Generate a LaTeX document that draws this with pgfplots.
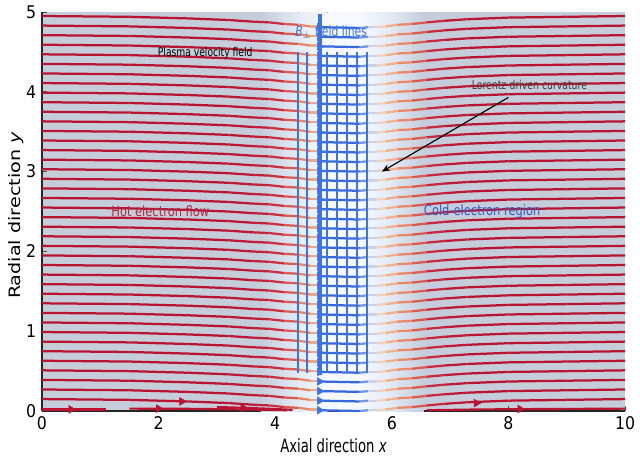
\documentclass[border=0pt]{standalone}
\usepackage{fontspec}
\setmainfont{DejaVu Sans Condensed}
\newfontfamily\widefont{DejaVu Sans}
\usepackage{graphicx}
\usepackage{pgfplots}
\usepackage{pgfplotstable}
\pgfplotsset{compat=1.18}
\usetikzlibrary{arrows.meta}

\definecolor{bgc}{RGB}{197,205,218}
\definecolor{glowm}{RGB}{228,235,246}
\definecolor{glowc}{RGB}{246,249,253}
\definecolor{crim}{RGB}{184,20,50}
\definecolor{vblue}{RGB}{62,116,226}
\definecolor{hotc}{RGB}{176,40,62}
\definecolor{coldc}{RGB}{44,92,200}

% streamlines: x, colour index m (0 = blue core, 1 = hot red), then one column per line
\pgfplotstableread{
x m l0 l1 l2 l3 l4 l5 l6 l7 l8 l9 l10 l11 l12 l13 l14 l15 l16 l17 l18 l19 l20 l21 l22 l23 l24 l25 l26 l27 l28 l29 l30 l31 l32 l33 l34 l35 l36 l37 l38 l39 l40
0 1 0.15 0.27 0.39 0.51 0.63 0.75 0.87 0.99 1.11 1.23 1.35 1.47 1.59 1.71 1.83 1.95 2.07 2.19 2.31 2.43 2.55 2.67 2.79 2.91 3.03 3.15 3.27 3.39 3.51 3.63 3.75 3.87 3.99 4.11 4.23 4.35 4.47 4.59 4.71 4.83 4.95
1.5 1 0.14 0.26 0.38 0.50 0.62 0.74 0.86 0.98 1.10 1.22 1.34 1.46 1.58 1.70 1.82 1.94 2.06 2.18 2.30 2.42 2.54 2.66 2.78 2.90 3.02 3.14 3.26 3.38 3.50 3.62 3.74 3.86 3.98 4.10 4.22 4.34 4.46 4.58 4.70 4.82 4.94
2.5 1 0.12 0.24 0.36 0.48 0.60 0.72 0.84 0.96 1.08 1.20 1.32 1.44 1.56 1.68 1.80 1.92 2.04 2.16 2.28 2.40 2.52 2.64 2.76 2.88 3.00 3.12 3.24 3.36 3.48 3.60 3.72 3.84 3.96 4.08 4.20 4.32 4.44 4.56 4.68 4.80 4.92
3.2 1 0.10 0.22 0.34 0.46 0.58 0.70 0.82 0.94 1.06 1.18 1.30 1.42 1.54 1.66 1.78 1.90 2.02 2.14 2.26 2.38 2.50 2.62 2.74 2.86 2.98 3.10 3.22 3.34 3.46 3.58 3.70 3.82 3.94 4.06 4.18 4.30 4.42 4.54 4.66 4.78 4.90
3.6 0.95 0.08 0.20 0.32 0.44 0.56 0.68 0.80 0.92 1.04 1.16 1.28 1.40 1.52 1.64 1.76 1.88 2.00 2.12 2.24 2.36 2.48 2.60 2.72 2.84 2.96 3.08 3.20 3.32 3.44 3.56 3.68 3.80 3.92 4.04 4.16 4.28 4.40 4.52 4.64 4.76 4.88
3.9 0.88 0.07 0.19 0.31 0.43 0.55 0.67 0.79 0.91 1.03 1.15 1.27 1.39 1.51 1.63 1.75 1.87 1.99 2.11 2.23 2.35 2.47 2.59 2.71 2.83 2.95 3.07 3.19 3.31 3.43 3.55 3.67 3.79 3.91 4.03 4.15 4.27 4.39 4.51 4.63 4.75 4.87
4.15 0.8 0.05 0.17 0.29 0.41 0.53 0.65 0.77 0.89 1.01 1.13 1.25 1.37 1.49 1.61 1.73 1.85 1.97 2.09 2.21 2.33 2.45 2.57 2.69 2.81 2.93 3.05 3.17 3.29 3.41 3.53 3.65 3.77 3.89 4.01 4.13 4.25 4.37 4.49 4.61 4.73 4.85
4.4 0.68 0.04 0.16 0.28 0.40 0.52 0.64 0.76 0.88 1.00 1.12 1.24 1.36 1.48 1.60 1.72 1.84 1.96 2.08 2.20 2.32 2.44 2.56 2.68 2.80 2.92 3.04 3.16 3.28 3.40 3.52 3.64 3.76 3.88 4.00 4.12 4.24 4.36 4.48 4.60 4.72 4.84
4.6 0.56 0.02 0.14 0.26 0.38 0.50 0.62 0.74 0.86 0.98 1.10 1.22 1.34 1.46 1.58 1.70 1.82 1.94 2.06 2.18 2.30 2.42 2.54 2.66 2.78 2.90 3.02 3.14 3.26 3.38 3.50 3.62 3.74 3.86 3.98 4.10 4.22 4.34 4.46 4.58 4.70 4.82
4.74 0.48 0.02 0.14 0.26 0.38 0.50 0.62 0.74 0.86 0.98 1.10 1.22 1.34 1.46 1.58 1.70 1.82 1.94 2.06 2.18 2.30 2.42 2.54 2.66 2.78 2.90 3.02 3.14 3.26 3.38 3.50 3.62 3.74 3.86 3.98 4.10 4.22 4.34 4.46 4.58 4.70 4.82
4.76 0 0.01 0.13 0.25 0.37 0.49 0.61 0.73 0.85 0.97 1.09 1.21 1.33 1.45 1.57 1.69 1.81 1.93 2.05 2.17 2.29 2.41 2.53 2.65 2.77 2.89 3.01 3.13 3.25 3.37 3.49 3.61 3.73 3.85 3.97 4.09 4.21 4.33 4.45 4.57 4.69 4.81
5.45 0 0.00 0.12 0.24 0.36 0.48 0.60 0.72 0.84 0.96 1.08 1.20 1.32 1.44 1.56 1.68 1.80 1.92 2.04 2.16 2.28 2.40 2.52 2.64 2.76 2.88 3.00 3.12 3.24 3.36 3.48 3.60 3.72 3.84 3.96 4.08 4.20 4.32 4.44 4.56 4.68 4.80
5.6 0.15 0.01 0.13 0.25 0.37 0.49 0.61 0.73 0.85 0.97 1.09 1.21 1.33 1.45 1.57 1.69 1.81 1.93 2.05 2.17 2.29 2.41 2.53 2.65 2.77 2.89 3.01 3.13 3.25 3.37 3.49 3.61 3.73 3.85 3.97 4.09 4.21 4.33 4.45 4.57 4.69 4.81
5.75 0.3 0.01 0.13 0.25 0.37 0.49 0.61 0.73 0.85 0.97 1.09 1.21 1.33 1.45 1.57 1.69 1.81 1.93 2.05 2.17 2.29 2.41 2.53 2.65 2.77 2.89 3.01 3.13 3.25 3.37 3.49 3.61 3.73 3.85 3.97 4.09 4.21 4.33 4.45 4.57 4.69 4.81
5.9 0.42 0.02 0.14 0.26 0.38 0.50 0.62 0.74 0.86 0.98 1.10 1.22 1.34 1.46 1.58 1.70 1.82 1.94 2.06 2.18 2.30 2.42 2.54 2.66 2.78 2.90 3.02 3.14 3.26 3.38 3.50 3.62 3.74 3.86 3.98 4.10 4.22 4.34 4.46 4.58 4.70 4.82
6.1 0.55 0.04 0.16 0.28 0.40 0.52 0.64 0.76 0.88 1.00 1.12 1.24 1.36 1.48 1.60 1.72 1.84 1.96 2.08 2.20 2.32 2.44 2.56 2.68 2.80 2.92 3.04 3.16 3.28 3.40 3.52 3.64 3.76 3.88 4.00 4.12 4.24 4.36 4.48 4.60 4.72 4.84
6.35 0.68 0.05 0.17 0.29 0.41 0.53 0.65 0.77 0.89 1.01 1.13 1.25 1.37 1.49 1.61 1.73 1.85 1.97 2.09 2.21 2.33 2.45 2.57 2.69 2.81 2.93 3.05 3.17 3.29 3.41 3.53 3.65 3.77 3.89 4.01 4.13 4.25 4.37 4.49 4.61 4.73 4.85
6.6 0.8 0.07 0.19 0.31 0.43 0.55 0.67 0.79 0.91 1.03 1.15 1.27 1.39 1.51 1.63 1.75 1.87 1.99 2.11 2.23 2.35 2.47 2.59 2.71 2.83 2.95 3.07 3.19 3.31 3.43 3.55 3.67 3.79 3.91 4.03 4.15 4.27 4.39 4.51 4.63 4.75 4.87
6.9 0.93 0.09 0.21 0.33 0.45 0.57 0.69 0.81 0.93 1.05 1.17 1.29 1.41 1.53 1.65 1.77 1.89 2.01 2.13 2.25 2.37 2.49 2.61 2.73 2.85 2.97 3.09 3.21 3.33 3.45 3.57 3.69 3.81 3.93 4.05 4.17 4.29 4.41 4.53 4.65 4.77 4.89
7.3 1 0.11 0.23 0.35 0.47 0.59 0.71 0.83 0.95 1.07 1.19 1.31 1.43 1.55 1.67 1.79 1.91 2.03 2.15 2.27 2.39 2.51 2.63 2.75 2.87 2.99 3.11 3.23 3.35 3.47 3.59 3.71 3.83 3.95 4.07 4.19 4.31 4.43 4.55 4.67 4.79 4.91
8 1 0.13 0.25 0.37 0.49 0.61 0.73 0.85 0.97 1.09 1.21 1.33 1.45 1.57 1.69 1.81 1.93 2.05 2.17 2.29 2.41 2.53 2.65 2.77 2.89 3.01 3.13 3.25 3.37 3.49 3.61 3.73 3.85 3.97 4.09 4.21 4.33 4.45 4.57 4.69 4.81 4.93
9 1 0.14 0.26 0.38 0.50 0.62 0.74 0.86 0.98 1.10 1.22 1.34 1.46 1.58 1.70 1.82 1.94 2.06 2.18 2.30 2.42 2.54 2.66 2.78 2.90 3.02 3.14 3.26 3.38 3.50 3.62 3.74 3.86 3.98 4.10 4.22 4.34 4.46 4.58 4.70 4.82 4.94
10 1 0.15 0.27 0.39 0.51 0.63 0.75 0.87 0.99 1.11 1.23 1.35 1.47 1.59 1.71 1.83 1.95 2.07 2.19 2.31 2.43 2.55 2.67 2.79 2.91 3.03 3.15 3.27 3.39 3.51 3.63 3.75 3.87 3.99 4.11 4.23 4.35 4.47 4.59 4.71 4.83 4.95
}\streams

\newcommand\nar[2][0.85]{\scalebox{#1}[1]{#2}}

\begin{document}
\begin{tikzpicture}
\begin{axis}[
  width=349.8pt, height=239.4pt, scale only axis,
  xmin=0, xmax=10, ymin=0, ymax=5,
  xtick={0,2,4,6,8,10}, ytick={0,1,2,3,4,5},
  axis lines*=left,
  axis line style={-, black!85, line width=0.7pt},
  tick align=inside, major tick length=3pt,
  tick style={black!70, line width=0.5pt},
  tick label style={font=\fontsize{10.5}{12}\selectfont},
  /pgf/number format/assume math mode=true,
  axis background/.style={fill=bgc},
  xlabel={\fontsize{11}{13}\selectfont\nar[0.8]{Axial direction \textit{x}}},
  xlabel style={at={(axis description cs:0.5,-0.088)}, anchor=center},
  ylabel={\widefont\fontsize{11.5}{13}\selectfont\scalebox{1}[0.82]{Radial direction \textit{y}}},
  ylabel style={at={(axis description cs:-0.045,0.49)}, anchor=center},
  colormap={stream}{rgb255(0cm)=(55,105,222); rgb255(1.5cm)=(170,196,240); rgb255(3cm)=(240,224,214); rgb255(5cm)=(242,172,130); rgb255(7cm)=(226,108,86); rgb255(8.5cm)=(200,42,62); rgb255(10cm)=(184,20,50)},
  point meta min=0, point meta max=1,
]
% bright core of the gap
\fill[left color=bgc, right color=glowm] (axis cs:3.75,0) rectangle (axis cs:4.4,5);
\fill[left color=glowm, right color=glowc] (axis cs:4.4,0) rectangle (axis cs:4.9,5);
\fill[glowc] (axis cs:4.9,0) rectangle (axis cs:5.45,5);
\fill[left color=glowc, right color=glowm] (axis cs:5.45,0) rectangle (axis cs:5.95,5);
\fill[left color=glowm, right color=bgc] (axis cs:5.95,0) rectangle (axis cs:6.55,5);

% velocity streamlines
\pgfplotsinvokeforeach{0,...,40}{
  \addplot[mesh, line width=1.35pt, point meta=\thisrow{m}] table[x=x, y=l#1] {\streams};
}

% B-perp field lines
\pgfplotsinvokeforeach{4.39,4.54,4.89,5.06,5.24,5.41,5.57}{
  \addplot[vblue, line width=1.2pt] coordinates {(#1,0.48) (#1,4.5)};
}
\addplot[vblue, line width=2.4pt] coordinates {(4.76,0.45) (4.76,4.97)};

% arrow heads where the flow enters the core
\pgfplotsinvokeforeach{0,...,40}{
  \addplot[only marks, mark=triangle*, mark size=2.6pt, mark phase=11, mark repeat=100,
    mark options={rotate=-90, fill=vblue, draw=vblue}] table[x=x, y=l#1] {\streams};
}

% near-wall streamlines
\addplot[crim, line width=1.3pt] coordinates {(0,0.02) (1.1,0.02)};
\addplot[crim, line width=1.3pt] coordinates {(1.5,0.03) (2.5,0.028) (3.5,0.02) (4.2,0.01)};
\addplot[crim, line width=1.3pt] coordinates {(3.0,0.05) (3.5,0.04) (4.0,0.025) (4.3,0.015)};
\addplot[crim, line width=1.3pt] coordinates {(6.6,0.01) (7.5,0.02) (8.5,0.025) (10,0.03)};
\addplot[only marks, mark=triangle*, mark size=2.6pt, mark options={rotate=-90, fill=crim, draw=crim}]
  coordinates {(0.5,0.02) (2.0,0.03) (2.4,0.12) (3.45,0.04) (7.45,0.1) (8.2,0.025)};

% annotations
\node[text=black] at (axis cs:2.8,4.49) {\fontsize{7.2}{8}\selectfont\nar{Plasma velocity field}};
\node[text=vblue] at (axis cs:4.96,4.75) {\fontsize{8.5}{10}\selectfont\nar{\textit{B}$_{\perp}$ field lines}};
\node[text=black!75] at (axis cs:8.36,4.08) {\fontsize{7.3}{8}\selectfont\nar{Lorentz-driven curvature}};
\draw[-{Stealth[length=5pt,width=4pt]}, black, line width=0.7pt] (axis cs:8.0,3.93) -- (axis cs:5.83,3.0);
\node[text=hotc] at (axis cs:2.03,2.5) {\fontsize{8.5}{10}\selectfont\nar[0.9]{Hot electron flow}};
\node[text=coldc] at (axis cs:7.55,2.5) {\fontsize{8.5}{10}\selectfont\nar[0.9]{Cold-electron region}};

\coordinate (bbsw) at (rel axis cs:-0.072,-0.1303);
\coordinate (bbne) at (rel axis cs:1.0257,1.0301);
\end{axis}
\pgfresetboundingbox
\path[use as bounding box] (bbsw) rectangle (bbne);
\end{tikzpicture}
\end{document}
